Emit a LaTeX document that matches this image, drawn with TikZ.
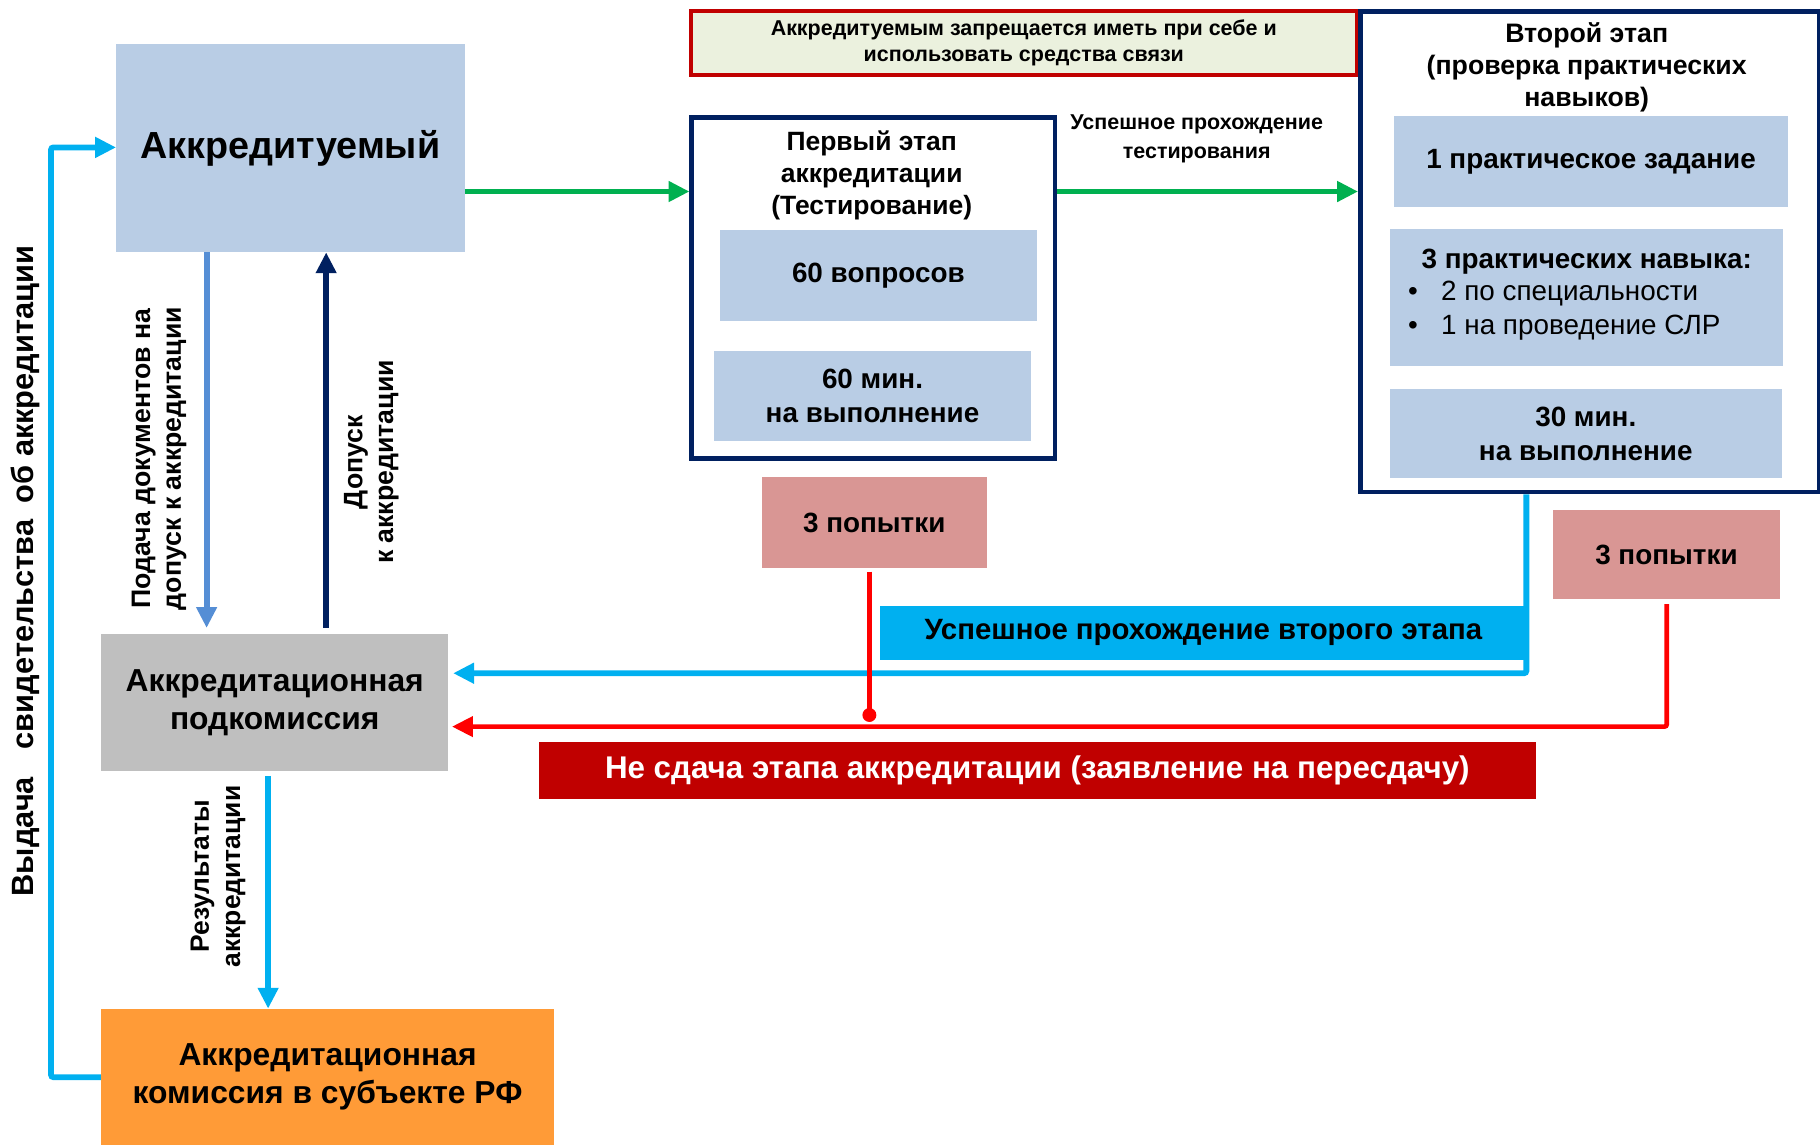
\documentclass[tikz,border=0pt]{standalone}
\usepackage{fontspec}
\setmainfont{Liberation Sans}
\usetikzlibrary{arrows.meta}
\definecolor{lb}{HTML}{B9CDE5}
\definecolor{navy}{HTML}{002060}
\definecolor{grn}{HTML}{00B050}
\definecolor{cyn}{HTML}{00B0F0}
\definecolor{midb}{HTML}{558ED5}
\definecolor{rd}{HTML}{FF0000}
\definecolor{drd}{HTML}{C00000}
\definecolor{pnk}{HTML}{D99694}
\definecolor{gry}{HTML}{BFBFBF}
\definecolor{org}{HTML}{FF9B37}
\definecolor{notefill}{HTML}{EBF1DE}
\newcommand{\fsz}[2]{\fontsize{#1}{#2}\selectfont}
\begin{document}
\begin{tikzpicture}[x=1pt,y=-1pt,
  blk/.style={inner sep=0pt, anchor=north west, align=center, font=\bfseries\fsz{24}{29}},
  txt/.style={inner sep=0pt, align=center, font=\bfseries\fsz{23}{27.5}},
  rtxt/.style={inner sep=0pt, align=center, rotate=90, font=\bfseries\fsz{23}{26.5}},
  arr/.style={line width=5pt, -{Triangle[length=18pt,width=17pt]}},
  ln/.style={line width=5pt, line join=round, line cap=round}
]
\useasboundingbox (0,0) rectangle (1568,986);

% boxes
\node[blk, fill=lb, minimum width=300pt, minimum height=179pt, font=\bfseries\fsz{32.5}{36}] (akk) at (100,38) {Аккредитуемый};
\node[blk, draw=drd, line width=3pt, fill=notefill, minimum width=573pt, minimum height=55pt, font=\bfseries\fsz{18.5}{23}] (note) at (594,8) {Аккредитуемым запрещается иметь при себе и\\использовать средства связи};

\node[blk, draw=navy, line width=4pt, fill=white, minimum width=313pt, minimum height=294pt] (st1) at (594,99) {};
\node[txt, font=\bfseries\fsz{22.8}{27.5}] (st1t) at (751,151) {Первый этап\\аккредитации\\(Тестирование)};
\node[blk, fill=lb, minimum width=273pt, minimum height=78pt] (q60) at (620,198) {60 вопросов};
\node[blk, fill=lb, minimum width=273pt, minimum height=78pt] (t60) at (615,302) {60 мин.\\на выполнение};

\node[blk, draw=navy, line width=4pt, fill=white, minimum width=395pt, minimum height=414pt] (st2) at (1170,8) {};
\node[txt] (st2t) at (1367,58) {Второй этап\\(проверка практических\\навыков)};
\node[blk, fill=lb, minimum width=339pt, minimum height=78pt] (task) at (1201,100) {1 практическое задание};
\node[blk, fill=lb, minimum width=339pt, minimum height=118pt] (skills) at (1197,197) {};
\node[txt, font=\bfseries\fsz{24}{27}] (skh) at (1367,225) {3 практических навыка:};
\node[txt, font=\fsz{24}{27}, anchor=west] (b1) at (1213,253) {•\hspace{20pt}2 по специальности};
\node[txt, font=\fsz{24}{27}, anchor=west] (b2) at (1213,282) {•\hspace{20pt}1 на проведение СЛР};
\node[blk, fill=lb, minimum width=338pt, minimum height=77pt] (t30) at (1197,335) {30 мин.\\на выполнение};

\node[blk, fill=pnk, minimum width=194pt, minimum height=78pt] (try1) at (656,411) {3 попытки};
\node[blk, fill=pnk, minimum width=195pt, minimum height=77pt] (try2) at (1338,439) {3 попытки};

\node[blk, fill=cyn, minimum width=557pt, minimum height=46pt, font=\bfseries\fsz{25.3}{27}] (pass2) at (758,522) {Успешное прохождение второго этапа};
\node[blk, fill=drd, text=white, minimum width=859pt, minimum height=49pt, font=\bfseries\fsz{27}{29}] (fail) at (464,639) {Не сдача этапа аккредитации (заявление на пересдачу)};

\node[blk, fill=gry, minimum width=299pt, minimum height=118pt, font=\bfseries\fsz{27.4}{33}] (sub) at (87,546) {Аккредитационная\\подкомиссия};
\node[blk, fill=org, minimum width=390pt, minimum height=117pt, font=\bfseries\fsz{27.4}{32}] (comm) at (87,869) {Аккредитационная\\комиссия в субъекте РФ};

% green arrows
\draw[arr, grn] (akk.east |- 0,165) -- (st1.west |- 0,165);
\draw[arr, grn] (st1.east |- 0,165) -- (st2.west |- 0,165);
\node[txt, font=\bfseries\fsz{18.5}{25}] (lbl1) at (1031,120) {Успешное прохождение\\тестирования};

% vertical arrows between akk and sub
\draw[arr, midb, shorten >=5pt] (akk.south -| 178,0) -- (sub.north -| 178,0);
\draw[arr, navy, shorten <=5pt] (sub.north -| 281,0) -- (akk.south -| 281,0);
\node[rtxt] (lbl2) at (137,395) {Подача документов на\\допуск к аккредитации};
\node[rtxt] (lbl3) at (320,398) {Допуск\\к аккредитации};

% sub -> comm
\draw[arr, cyn, shorten <=4pt] (sub.south -| 231,0) -- (comm.north -| 231,0);
\node[rtxt, font=\bfseries\fsz{22.8}{27}] (lbl4) at (188,755) {Результаты\\аккредитации};

% loop comm -> akk
\coordinate (lpb) at (44,928);
\coordinate (lpt) at (44,127);
\draw[arr, cyn, rounded corners=2pt] (comm.west |- lpb) -- (lpb) -- (lpt) -- (akk.west |- lpt);
\node[rtxt, font=\bfseries\fsz{26.5}{28}] (lbl5) at (22,492) {Выдача\hspace{24pt}свидетельства\hspace{14pt}об аккредитации};

% second stage success -> sub
\coordinate (c2) at (1315,580);
\draw[arr, cyn, rounded corners=2pt, shorten >=4pt] (st2.south -| c2) -- (c2) -- (sub.east |- c2);

% failure lines
\coordinate (r2) at (1436,626);
\draw[arr, rd, line width=4pt, rounded corners=2pt, shorten >=3pt, shorten <=4pt] (try2.south -| r2) -- (r2) -- (sub.east |- r2);
\coordinate (r1) at (749,616);
\draw[rd, line width=4pt, shorten <=3pt] (try1.south -| r1) -- (r1);
\fill[rd] (r1) circle (6pt);
\end{tikzpicture}
\end{document}
